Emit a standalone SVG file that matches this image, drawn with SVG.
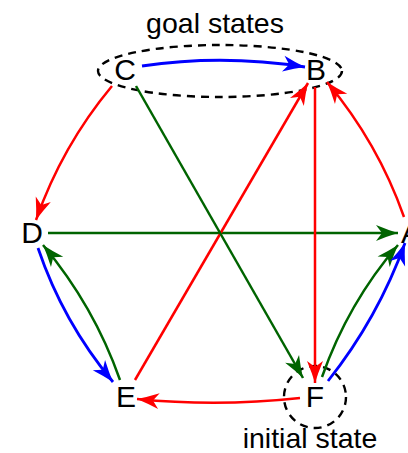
<svg xmlns="http://www.w3.org/2000/svg" width="408" height="453" viewBox="0 0 408 453">
<style>
.lbl{font-family:"Liberation Sans",Arial,sans-serif;font-size:30px;text-anchor:middle;fill:#000}
.ann{font-family:"Liberation Sans",Arial,sans-serif;font-size:28.5px;text-anchor:middle;fill:#000}
.e{fill:none;stroke-width:2.5;stroke-linecap:butt}
.r{stroke:#ff0000;marker-end:url(#ar)}
.b{stroke:#0000ff;stroke-width:2.8;marker-end:url(#ab)}
.g{stroke:#006400;marker-end:url(#ag)}
.dash{fill:none;stroke:#000;stroke-width:2.4;stroke-dasharray:8,6}
</style>
<defs>
<marker id="ar" markerUnits="userSpaceOnUse" markerWidth="24" markerHeight="18" refX="22" refY="8" orient="auto" overflow="visible"><path d="M0,0 Q12,5 22,8 Q12,11 0,16 L6,8 Z" fill="#ff0000"/></marker>
<marker id="ab" markerUnits="userSpaceOnUse" markerWidth="24" markerHeight="18" refX="22" refY="8" orient="auto" overflow="visible"><path d="M0,0 Q12,5 22,8 Q12,11 0,16 L6,8 Z" fill="#0000ff"/></marker>
<marker id="ag" markerUnits="userSpaceOnUse" markerWidth="24" markerHeight="18" refX="22" refY="8" orient="auto" overflow="visible"><path d="M0,0 Q12,5 22,8 Q12,11 0,16 L6,8 Z" fill="#006400"/></marker>
</defs>
<g id="annotations">
<ellipse class="dash" cx="220" cy="71" rx="122" ry="26"/>
<circle class="dash" cx="315" cy="397" r="31"/>
<text class="ann" x="215" y="33">goal states</text>
<text class="ann" x="310" y="448">initial state</text>
</g>
<g id="connectors">
<path class="e b" d="M142,66 Q223,54 305,67"/>
<path class="e r" d="M112,86 Q62,146 36,220"/>
<path class="e g" d="M48,233 L398,233"/>
<path class="e b" d="M38,248 Q63,322 113,382"/>
<path class="e g" d="M120,380 Q94,306 43,245"/>
<path class="e r" d="M135,380 L308,83"/>
<path class="e g" d="M136,86 L303,378"/>
<path class="e r" d="M315,87 L315,383"/>
<path class="e r" d="M404,217 Q378,143 327,82"/>
<path class="e g" d="M322,377 Q348,303 398,245"/>
<path class="e b" d="M328,381 Q378,318 405,243"/>
<path class="e r" d="M300,398 Q218,407 137,399"/>
</g>
<g id="node-C"><text class="lbl" x="125" y="80">C</text></g>
<g id="node-B"><text class="lbl" x="316" y="80">B</text></g>
<g id="node-D"><text class="lbl" x="32" y="243">D</text></g>
<g id="node-A"><text class="lbl" x="411" y="243">A</text></g>
<g id="node-E"><text class="lbl" x="126" y="407">E</text></g>
<g id="node-F"><text class="lbl" x="315" y="407">F</text></g>
</svg>
